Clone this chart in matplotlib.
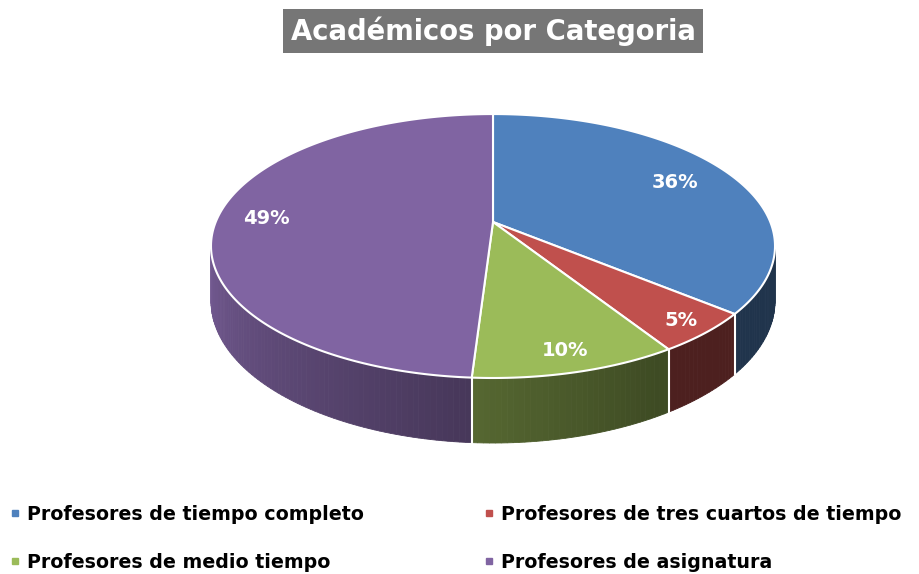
import numpy as np
import matplotlib
matplotlib.use('Agg')
import matplotlib.pyplot as plt
from matplotlib.lines import Line2D
import matplotlib.colors as mcolors

# datos
titulo = 'Académicos por Categoria'
categorias = ['Profesores de tiempo completo', 'Profesores de tres cuartos de tiempo',
              'Profesores de medio tiempo', 'Profesores de asignatura']
porcentajes = [36, 5, 10, 49]
colores = ['#4f81bd', '#c0504d', '#9bbb59', '#8064a2']

# geometria del pastel 3D (en pixeles)
cx, cy = 493, 222        # vertice del pastel
a, b, k = 277.3, 127.6, 0.182   # radios y perspectiva
H = 53.2                 # grosor
r_etiqueta = [0.77, 0.9, 0.88, 0.82]
vis = (100.5, 259.5)     # parte visible de la pared (grados desde arriba, horario)


def proyecta(r, th, z=0.0):
    t = np.deg2rad(th)
    u, v = r * np.sin(t), r * np.cos(t)
    d = 1 + k * v
    return cx + a * u / d, cy - b * v / d + H * z / d


def sombra(th):
    # luz desde la izquierda, mas oscuro hacia el frente-derecha
    f = 0.9 - (260 - th) / 110 * 0.5
    return float(np.clip(f, 0.4, 0.9))


fig = plt.figure(figsize=(9.19, 5.74), dpi=100)
ax = fig.add_axes([0, 0, 1, 1])
ax.set_xlim(0, 919)
ax.set_ylim(574, 0)
ax.axis('off')

lim = np.cumsum([0] + porcentajes) / sum(porcentajes) * 360

# paredes
for i, c in enumerate(colores):
    t0, t1 = max(lim[i], vis[0]), min(lim[i + 1], vis[1])
    if t1 <= t0:
        continue
    base = np.array(mcolors.to_rgb(c))
    ths = np.linspace(t0, t1, max(int(t1 - t0), 2) + 1)
    for j in range(len(ths) - 1):
        xa, ya = proyecta(1, ths[j])
        xb, yb = proyecta(1, ths[j + 1])
        xc, yc = proyecta(1, ths[j + 1], 1)
        xd, yd = proyecta(1, ths[j], 1)
        col = base * sombra((ths[j] + ths[j + 1]) / 2)
        ax.fill([xa, xb, xc, xd], [ya, yb, yc, yd], color=col, lw=0.6, ec=col)

# separadores blancos en la pared
for th in lim[1:-1]:
    if vis[0] < th < vis[1]:
        x0, y0 = proyecta(1, th)
        x1, y1 = proyecta(1, th, 1)
        ax.plot([x0, x1], [y0, y1], color='white', lw=1.5)

# caras superiores
for i, c in enumerate(colores):
    ths = np.linspace(lim[i], lim[i + 1], 200)
    xs, ys = proyecta(1, ths)
    ax.fill(np.r_[cx, xs], np.r_[cy, ys], fc=c, ec='white', lw=1.5, joinstyle='round')

# etiquetas de porcentaje
for i, p in enumerate(porcentajes):
    mid = (lim[i] + lim[i + 1]) / 2
    x, y = proyecta(r_etiqueta[i], mid)
    ax.text(x, y, f'{p}%', color='white', fontsize=14, fontweight='bold',
            ha='center', va='center')

# titulo
ax.text(493, 31, titulo, color='white', fontsize=19.8, fontweight='bold',
        ha='center', va='center',
        bbox=dict(boxstyle='square,pad=0.28', fc='#767676', ec='none'))

# leyenda
orden = [0, 2, 1, 3]
handles = [Line2D([], [], marker='s', ls='', color=colores[i], markersize=4.3) for i in orden]
ax.legend(handles, [categorias[i] for i in orden], ncol=2, loc='upper left',
          bbox_to_anchor=(10 / 919, 1 - 505 / 574), frameon=False,
          prop=dict(weight='bold', size=13.7), handlelength=0.5, handletextpad=0.4,
          columnspacing=6.3, labelspacing=1.53, borderaxespad=0, borderpad=0)

fig.savefig('out.png', dpi=100)
